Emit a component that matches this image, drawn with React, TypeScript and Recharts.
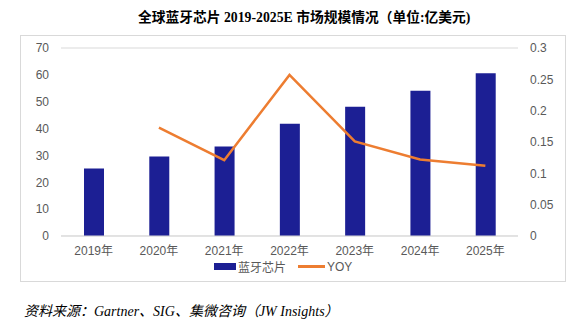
import React from "react";
import { ComposedChart, Bar, Line, XAxis, YAxis, CartesianGrid } from "recharts";

const years = ["2019年", "2020年", "2021年", "2022年", "2023年", "2024年", "2025年"];
const chipValues = [25.1, 29.6, 33.3, 41.8, 48.1, 54.1, 60.6];
const yoyValues: (number | null)[] = [null, 0.173, 0.121, 0.257, 0.151, 0.122, 0.112];
const leftTicks = [0, 10, 20, 30, 40, 50, 60, 70];
const rightTicks = [0, 0.05, 0.1, 0.15, 0.2, 0.25, 0.3];

const data = years.map((y, i) => ({ year: y, chip: chipValues[i], yoy: yoyValues[i] }));

const BLUE = "#1c1f94";
const ORANGE = "#ED7D31";
const AXIS_FONT = "'Liberation Sans', 'Noto Sans CJK SC', sans-serif";

export default function App() {
  return (
    <div style={{ position: "absolute", left: 0, top: 0, width: 584, height: 324, background: "#fff" }}>
      <div
        style={{
          position: "absolute",
          left: 138,
          top: 6,
          fontFamily: "'Liberation Serif', 'Noto Sans CJK SC', serif",
          fontWeight: "bold",
          fontSize: 13.75,
          color: "#000",
          whiteSpace: "nowrap",
        }}
      >
        全球蓝牙芯片 2019-2025E 市场规模情况（单位:亿美元)
      </div>
      <div
        style={{
          position: "absolute",
          left: 20,
          top: 35,
          width: 544,
          height: 245,
          border: "1px solid #d9d9d9",
        }}
      >
        <ComposedChart
          width={544}
          height={245}
          data={data}
          margin={{ top: 12, right: 0, bottom: 25, left: 0 }}
          barCategoryGap="35%"
        >
          <CartesianGrid vertical={false} stroke="#d9d9d9" />
          <XAxis
            dataKey="year"
            axisLine={{ stroke: "#d9d9d9" }}
            tickLine={false}
            tickSize={0}
            tickMargin={10}
            height={20}
            tick={{ fill: "#595959", fontSize: 12, fontFamily: AXIS_FONT }}
            interval={0}
          />
          <YAxis
            yAxisId="left"
            orientation="left"
            domain={[0, 70]}
            ticks={leftTicks}
            width={40}
            axisLine={false}
            tickLine={false}
            tickSize={0}
            tickMargin={12}
            tick={{ fill: "#595959", fontSize: 12, fontFamily: AXIS_FONT }}
          />
          <YAxis
            yAxisId="right"
            orientation="right"
            domain={[0, 0.3]}
            ticks={rightTicks}
            width={47}
            axisLine={false}
            tickLine={false}
            tickSize={0}
            tickMargin={12}
            tick={{ fill: "#595959", fontSize: 12, fontFamily: AXIS_FONT, textAnchor: "start" }}
          />
          <Bar yAxisId="left" dataKey="chip" fill={BLUE} barSize={20} isAnimationActive={false} />
          <Line
            yAxisId="right"
            dataKey="yoy"
            stroke={ORANGE}
            strokeWidth={2.5}
            dot={false}
            activeDot={false}
            type="linear"
            connectNulls={false}
            isAnimationActive={false}
          />
        </ComposedChart>
        <div
          style={{
            position: "absolute",
            left: 193,
            top: 222,
            display: "flex",
            alignItems: "center",
            fontFamily: AXIS_FONT,
            fontSize: 12,
            color: "#595959",
            whiteSpace: "nowrap",
          }}
        >
          <span style={{ display: "inline-block", width: 22, height: 7, background: BLUE, marginRight: 2 }} />
          <span style={{ fontFamily: "'Noto Sans CJK SC', sans-serif" }}>蓝牙芯片</span>
          <span style={{ display: "inline-block", width: 27, height: 3, background: ORANGE, marginLeft: 12, marginRight: 2 }} />
          <span>YOY</span>
        </div>
      </div>
      <div
        style={{
          position: "absolute",
          left: 24,
          top: 300,
          fontFamily: "'Liberation Serif', 'Noto Sans CJK SC', serif",
          fontStyle: "italic",
          fontSize: 14,
          color: "#000",
          whiteSpace: "nowrap",
        }}
      >
        资料来源：Gartner、SIG、集微咨询（JW Insights）
      </div>
    </div>
  );
}
